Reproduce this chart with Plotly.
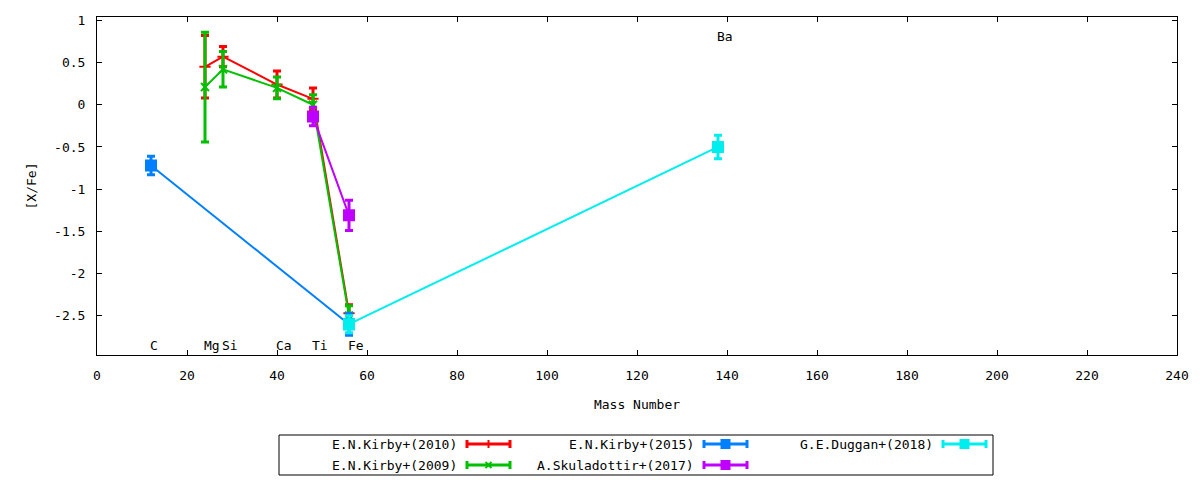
import plotly.graph_objects as go

# element mass numbers
mass_c, mass_mg, mass_si, mass_ca, mass_ti, mass_fe, mass_ba = 12, 24, 28, 40, 48, 56, 138

# E.N.Kirby+(2010): Mg, Si, Ca, Ti, Fe
kirby2010_x = [mass_mg, mass_si, mass_ca, mass_ti, mass_fe]
kirby2010_y = [0.45, 0.57, 0.24, 0.07, -2.47]
kirby2010_err = [0.37, 0.12, 0.16, 0.13, 0.10]

# E.N.Kirby+(2009): Mg, Si, Ca, Ti, Fe
kirby2009_x = [mass_mg, mass_si, mass_ca, mass_ti, mass_fe]
kirby2009_y = [0.21, 0.42, 0.20, 0.00, -2.50]
kirby2009_err = [0.65, 0.21, 0.13, 0.12, 0.12]

# E.N.Kirby+(2015): C, Fe
kirby2015_x = [mass_c, mass_fe]
kirby2015_y = [-0.72, -2.60]
kirby2015_err = [0.11, 0.13]

# A.Skuladottir+(2017): Ti, Fe
skul2017_x = [mass_ti, mass_fe]
skul2017_y = [-0.14, -1.31]
skul2017_err = [0.11, 0.18]

# G.E.Duggan+(2018): Fe, Ba
duggan2018_x = [mass_fe, mass_ba]
duggan2018_y = [-2.60, -0.50]
duggan2018_err = [0.10, 0.14]

# element labels
elem_names = ["C", "Mg", "Si", "Ca", "Ti", "Fe", "Ba"]
elem_x = [mass_c, mass_mg, mass_si, mass_ca, mass_ti, mass_fe, mass_ba]
elem_y = [-2.85, -2.85, -2.85, -2.85, -2.85, -2.85, 0.81]

x_ticks = list(range(0, 241, 20))
y_ticks = [1, 0.5, 0, -0.5, -1, -1.5, -2, -2.5]
y_tick_text = ["1", "0.5", "0", "-0.5", "-1", "-1.5", "-2", "-2.5"]

FONT = "DejaVu Sans Mono"

series = [
    dict(name="E.N.Kirby+(2010)", x=kirby2010_x, y=kirby2010_y, err=kirby2010_err,
         color="#ff0000", symbol="cross-thin", size=8),
    dict(name="E.N.Kirby+(2009)", x=kirby2009_x, y=kirby2009_y, err=kirby2009_err,
         color="#00c000", symbol="x-thin", size=8),
    dict(name="E.N.Kirby+(2015)", x=kirby2015_x, y=kirby2015_y, err=kirby2015_err,
         color="#0080ff", symbol="square", size=10),
    dict(name="A.Skuladottir+(2017)", x=skul2017_x, y=skul2017_y, err=skul2017_err,
         color="#c000ff", symbol="square", size=10),
    dict(name="G.E.Duggan+(2018)", x=duggan2018_x, y=duggan2018_y, err=duggan2018_err,
         color="#00eeee", symbol="square", size=10),
]

fig = go.Figure()

for s in series:
    fig.add_trace(go.Scatter(
        x=s["x"], y=s["y"],
        mode="lines+markers",
        line=dict(color=s["color"], width=2),
        marker=dict(color=s["color"], symbol=s["symbol"], size=s["size"],
                    line=dict(color=s["color"], width=2)),
        error_y=dict(type="data", array=s["err"], visible=True,
                     color=s["color"], thickness=3, width=4),
        name=s["name"],
        showlegend=False,
        hoverinfo="x+y",
    ))

annotations = []
for name, ex, ey in zip(elem_names, elem_x, elem_y):
    annotations.append(dict(
        x=ex, y=ey, xref="x", yref="y", text=name, showarrow=False,
        xanchor="left", yanchor="middle", borderpad=0, xshift=-2,
        font=dict(family=FONT, size=13, color="black"),
    ))

# plot area in screen pixels: left 97, right 1177, top 17, bottom 355
# (page body adds an 8px margin, so the figure margins are 8px less)
L, R, T, B = 97, 1177, 17, 355
PAGE = 8


def px(p):
    return (p - L) / (R - L)


def py(p):
    return (B - p) / (B - T)


shapes = []
# legend box
shapes.append(dict(type="rect", xref="paper", yref="paper",
                   x0=px(279), x1=px(993), y0=py(475), y1=py(435),
                   line=dict(color="black", width=1), fillcolor="white"))

# legend slots, gnuplot style: text right-aligned, sample on the right
slots = [(458, 444), (458, 465), (695, 444), (695, 465), (934, 444)]
for s, (tx, ty) in zip(series, slots):
    annotations.append(dict(
        x=px(tx), y=py(ty), xref="paper", yref="paper", text=s["name"],
        showarrow=False, xanchor="right", yanchor="middle", borderpad=0,
        font=dict(family=FONT, size=13, color="black"),
    ))
    x0, x1 = tx + 9, tx + 52
    xm = (x0 + x1) / 2
    c = s["color"]
    shapes.append(dict(type="line", xref="paper", yref="paper",
                       x0=px(x0), x1=px(x1), y0=py(ty), y1=py(ty),
                       line=dict(color=c, width=3)))
    for xc in (x0, x1):
        shapes.append(dict(type="line", xref="paper", yref="paper",
                           x0=px(xc), x1=px(xc), y0=py(ty - 4), y1=py(ty + 4),
                           line=dict(color=c, width=3)))
    if s["symbol"] == "square":
        shapes.append(dict(type="rect", xref="paper", yref="paper",
                           x0=px(xm - 5), x1=px(xm + 5), y0=py(ty + 5), y1=py(ty - 5),
                           line=dict(color=c, width=0), fillcolor=c))
    elif s["symbol"] == "cross-thin":
        shapes.append(dict(type="line", xref="paper", yref="paper",
                           x0=px(xm), x1=px(xm), y0=py(ty - 4), y1=py(ty + 4),
                           line=dict(color=c, width=2)))
    else:
        for d in (-1, 1):
            shapes.append(dict(type="line", xref="paper", yref="paper",
                               x0=px(xm - 3), x1=px(xm + 3), y0=py(ty - 3 * d), y1=py(ty + 3 * d),
                               line=dict(color=c, width=2)))

fig.update_layout(
    width=1200, height=480,
    margin=dict(l=L - PAGE, r=1200 - R + PAGE, t=T - PAGE, b=480 - B + PAGE,
                autoexpand=False),
    paper_bgcolor="white", plot_bgcolor="white",
    font=dict(family=FONT, size=13, color="black"),
    showlegend=False,
    annotations=annotations,
    shapes=shapes,
    xaxis=dict(
        range=[0, 240], tickvals=x_ticks, ticks="inside", ticklen=5,
        tickcolor="black", showline=True, linecolor="black", linewidth=1,
        mirror="allticks", showgrid=False, zeroline=False,
        ticklabelstandoff=8,
        title=dict(text="Mass Number", standoff=18,
                   font=dict(family=FONT, size=13)),
    ),
    yaxis=dict(
        range=[-2.965, 1.04], tickvals=y_ticks, ticktext=y_tick_text,
        ticks="inside", ticklen=5, tickcolor="black", showline=True,
        linecolor="black", linewidth=1, mirror="allticks", showgrid=False,
        zeroline=False, ticklabelstandoff=8,
        title=dict(text="[X/Fe]", standoff=14,
                   font=dict(family=FONT, size=13)),
    ),
)

fig.write_html("out.html")
